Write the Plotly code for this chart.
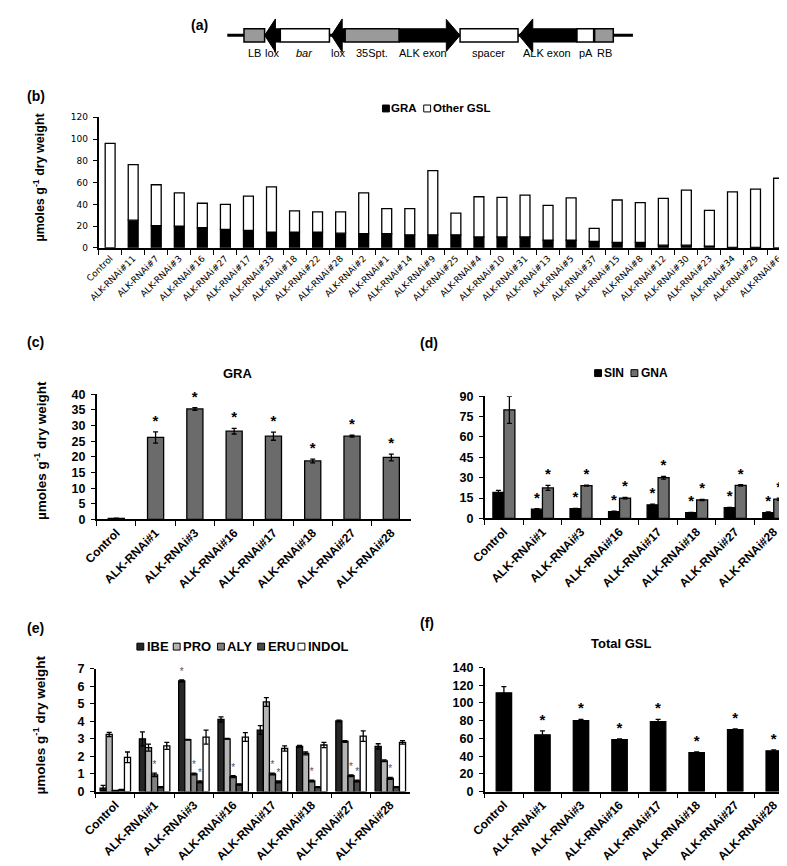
import plotly.graph_objects as go

# ---------------- data ----------------
lines_b = ["Control", "ALK-RNAi#11", "ALK-RNAi#7", "ALK-RNAi#3", "ALK-RNAi#16", "ALK-RNAi#27",
           "ALK-RNAi#17", "ALK-RNAi#33", "ALK-RNAi#18", "ALK-RNAi#22", "ALK-RNAi#28", "ALK-RNAi#2",
           "ALK-RNAi#1", "ALK-RNAi#14", "ALK-RNAi#9", "ALK-RNAi#25", "ALK-RNAi#4", "ALK-RNAi#10",
           "ALK-RNAi#31", "ALK-RNAi#13", "ALK-RNAi#5", "ALK-RNAi#37", "ALK-RNAi#15", "ALK-RNAi#8",
           "ALK-RNAi#12", "ALK-RNAi#30", "ALK-RNAi#23", "ALK-RNAi#34", "ALK-RNAi#29", "ALK-RNAi#6"]
gra_b = [0, 25.5, 20.5, 20, 18.5, 17, 16, 14.5, 14.5, 14.5, 13.5, 13, 13, 12, 12,
         12, 10, 10, 10, 7, 7, 6, 5, 5, 2.5, 2.5, 1.5, 0.5, 0.5, 0]
other_b = [96, 51, 37.5, 30.5, 22.5, 23, 31.5, 41.5, 19.5, 18.5, 19.5, 37.5, 23, 24, 59,
           20, 37, 36.5, 38.5, 32, 39, 12, 39, 36.5, 43, 50.5, 33, 51, 53.5, 64]

lines = ["Control", "ALK-RNAi#1", "ALK-RNAi#3", "ALK-RNAi#16", "ALK-RNAi#17",
         "ALK-RNAi#18", "ALK-RNAi#27", "ALK-RNAi#28"]

gra_c = [0.3, 26.2, 35.3, 28.2, 26.6, 18.7, 26.6, 19.8]
gra_c_err = [0.1, 1.8, 0.4, 0.9, 1.3, 0.6, 0.3, 1.1]
gra_c_sig = [0, 1, 1, 1, 1, 1, 1, 1]

sin_d = [19.1, 6.8, 7.2, 5.0, 10.0, 4.2, 7.9, 4.3]
sin_d_err = [1.6, 0.4, 0.2, 0.3, 0.5, 0.2, 0.3, 0.5]
sin_d_sig = [0, 1, 1, 1, 1, 1, 1, 1]
gna_d = [80, 22.5, 24.2, 15, 30, 13.6, 24.3, 14.2]
gna_d_err = [10, 1.8, 0.3, 0.5, 1.0, 0.5, 0.5, 0.8]
gna_d_sig = [0, 1, 1, 1, 1, 1, 1, 1]

ibe_e = [0.2, 3.0, 6.3, 4.1, 3.5, 2.57, 4.02, 2.57]
ibe_e_err = [0.15, 0.4, 0.05, 0.15, 0.25, 0.05, 0.05, 0.15]
ibe_e_sig = [0, 0, 1, 0, 0, 0, 0, 0]
pro_e = [3.25, 2.5, 2.95, 3.0, 5.1, 2.17, 2.85, 1.75]
pro_e_err = [0.12, 0.2, 0.02, 0.02, 0.25, 0.08, 0.05, 0.05]
pro_e_sig = [0, 0, 0, 0, 0, 0, 0, 0]
aly_e = [0.05, 0.95, 1.0, 0.85, 1.0, 0.6, 0.9, 0.75]
aly_e_err = [0.02, 0.1, 0.05, 0.05, 0.05, 0.05, 0.05, 0.05]
aly_e_sig = [0, 1, 1, 1, 1, 1, 1, 1]
eru_e = [0.1, 0.25, 0.55, 0.4, 0.55, 0.25, 0.6, 0.25]
eru_e_err = [0.02, 0.03, 0.05, 0.03, 0.05, 0.03, 0.05, 0.03]
eru_e_sig = [0, 0, 1, 0, 1, 0, 1, 0]
indol_e = [1.95, 2.6, 3.1, 3.1, 2.45, 2.65, 3.15, 2.8]
indol_e_err = [0.3, 0.2, 0.4, 0.25, 0.15, 0.15, 0.3, 0.1]
indol_e_sig = [0, 0, 0, 0, 0, 0, 0, 0]

total_f = [111.5, 64, 80, 58.5, 79, 44, 70, 46]
total_f_err = [7, 4.5, 1.5, 1, 2.5, 0.7, 0.7, 1]
total_f_sig = [0, 1, 1, 1, 1, 1, 1, 1]

construct_labels = ["LB", "lox", "<i>bar</i>", "lox", "35Spt.", "ALK exon", "spacer", "ALK exon", "pA", "RB"]

# ---------------- layout helpers ----------------
W, H = 787, 866
FONT = "Liberation Sans, Arial, sans-serif"
fig = go.Figure()


def yd(top_px, bot_px):
    return [1 - bot_px / H, 1 - top_px / H]


def xd(l_px, r_px):
    return [l_px / W, r_px / W]


def add_series(xa, ya, cats, vals, errs, sig, width, offset, color, star_font, name, base=None):
    fig.add_trace(go.Bar(
        x=cats, y=vals, base=base, width=width, offset=offset, name=name,
        marker=dict(color=color, line=dict(color="black", width=1.3)),
        error_y=(dict(type="data", array=errs, color="black", thickness=1.3, width=2.5)
                 if errs is not None else None),
        xaxis=xa, yaxis=ya, showlegend=False, hoverinfo="x+y"))
    if sig is not None and any(sig):
        sx = [c for c, s in zip(cats, sig) if s]
        sy = [v + e for v, e, s in zip(vals, errs, sig) if s]
        fig.add_trace(go.Bar(
            x=sx, y=sy, width=width, offset=offset,
            marker=dict(color="rgba(0,0,0,0)", line=dict(width=0)),
            text=["*"] * len(sx), textposition="outside", textangle=0,
            textfont=star_font, outsidetextfont=star_font, constraintext="none", cliponaxis=False,
            xaxis=xa, yaxis=ya, showlegend=False, hoverinfo="skip"))


# panel (b): stacked via base
add_series("x", "y", lines_b, gra_b, None, None, 0.43, -0.215, "black", None, "GRA")
add_series("x", "y", lines_b, other_b, None, None, 0.43, -0.215, "white", None, "Other GSL", base=gra_b)

star_big = dict(family=FONT, size=15, color="black", weight="bold")
star_small = dict(family=FONT, size=10, color="#555555")

# panel (c)
add_series("x2", "y2", lines, gra_c, gra_c_err, gra_c_sig, 0.41, -0.205, "#6b6b6b", star_big, "GRA")

# panel (d)
add_series("x3", "y3", lines, sin_d, sin_d_err, sin_d_sig, 0.285, -0.285, "black", star_big, "SIN")
add_series("x3", "y3", lines, gna_d, gna_d_err, gna_d_sig, 0.285, 0.0, "#707070", star_big, "GNA")

# panel (e)
e_series = [("IBE", ibe_e, ibe_e_err, ibe_e_sig, "#262626"),
            ("PRO", pro_e, pro_e_err, pro_e_sig, "#b5b5b5"),
            ("ALY", aly_e, aly_e_err, aly_e_sig, "#808080"),
            ("ERU", eru_e, eru_e_err, eru_e_sig, "#4a4a4a"),
            ("INDOL", indol_e, indol_e_err, indol_e_sig, "white")]
bw_e = 0.155
for k, (nm, v, er, sg, col) in enumerate(e_series):
    add_series("x4", "y4", lines, v, er, sg, bw_e, -2.5 * bw_e + k * bw_e, col, star_small, nm)

# panel (f)
add_series("x5", "y5", lines, total_f, total_f_err, total_f_sig, 0.4, -0.2, "black", star_big, "Total GSL")

# ---------------- axes ----------------
def cat_axis(dom, n, font, anchor):
    return dict(domain=dom, anchor=anchor, type="category", range=[-0.5, n - 0.5],
                showline=True, linecolor="black", linewidth=1.5, ticks="outside",
                tickson="boundaries", ticklen=5, tickcolor="black", tickwidth=1.3,
                tickangle=-45, tickfont=font, showgrid=False, zeroline=False, fixedrange=True)


def val_axis(dom, rng, dtick, font, anchor):
    return dict(domain=dom, anchor=anchor, range=rng, dtick=dtick, tick0=0,
                showline=True, linecolor="black", linewidth=1.5, ticks="outside",
                ticklen=4, tickcolor="black", tickwidth=1.3, tickfont=font,
                showgrid=False, zeroline=False, fixedrange=True, ticklabelstandoff=3)


font_b = dict(family="DejaVu Sans", size=9, color="black")
font_bold = dict(family=FONT, size=12.5, color="black", weight="bold")
font_xbold = dict(family=FONT, size=12, color="black", weight="bold")

layout_axes = dict(
    xaxis=cat_axis(xd(78, 782), len(lines_b), font_b, "y"),
    yaxis=val_axis(yd(104, 236.7), [0, 120], 20, font_b, "x"),
    xaxis2=cat_axis(xd(76, 396), len(lines), font_xbold, "y2"),
    yaxis2=val_axis(yd(385.5, 512.7), [0, 40], 5, font_bold, "x2"),
    xaxis3=cat_axis(xd(471, 785), len(lines), font_xbold, "y3"),
    yaxis3=val_axis(yd(387.5, 511.7), [0, 90], 15, font_bold, "x3"),
    xaxis4=cat_axis(xd(75, 395), len(lines), font_xbold, "y4"),
    yaxis4=val_axis(yd(664.3, 789.3), [0, 7], 1, font_bold, "x4"),
    xaxis5=cat_axis(xd(471, 785), len(lines), font_xbold, "y5"),
    yaxis5=val_axis(yd(663.3, 789.3), [0, 140], 20, font_bold, "x5"),
    xaxis6=dict(domain=[0, 1], range=[0, W], visible=False, anchor="y6", fixedrange=True),
    yaxis6=dict(domain=yd(0, 60), range=[60, 0], visible=False, anchor="x6", fixedrange=True),
)

# ---------------- construct diagram (a) ----------------
shapes = []
annotations = []
LINE_Y = 20.7
shapes.append(dict(type="line", xref="x6", yref="y6", x0=209, x1=622, y0=LINE_Y, y1=LINE_Y,
                   line=dict(color="black", width=3)))


def box(x0, x1, fill):
    shapes.append(dict(type="rect", xref="x6", yref="y6", x0=x0, x1=x1, y0=14, y1=27.5,
                       fillcolor=fill, line=dict(color="black", width=1.5)))


def arrow_left(tip, head_end, tail):
    p = (f"M{tip},{LINE_Y} L{head_end},4 L{head_end},14 L{tail},14 L{tail},27.5 "
         f"L{head_end},27.5 L{head_end},37.5 Z")
    shapes.append(dict(type="path", xref="x6", yref="y6", path=p, fillcolor="black",
                       line=dict(color="black", width=1)))


def arrow_right(tail, head_start, tip):
    p = (f"M{tip},{LINE_Y} L{head_start},4.5 L{head_start},14 L{tail},14 L{tail},27.5 "
         f"L{head_start},27.5 L{head_start},37 Z")
    shapes.append(dict(type="path", xref="x6", yref="y6", path=p, fillcolor="black",
                       line=dict(color="black", width=1)))


box(226, 247, "#9a9a9a")           # LB
arrow_left(247, 258, 263)          # lox
box(263, 313, "white")             # bar
arrow_left(315, 326, 329)          # lox
box(329, 384, "#9a9a9a")           # 35S promoter
arrow_right(384, 432, 446)         # ALK exon
box(446, 505, "white")             # spacer
arrow_left(506, 520, 565)          # ALK exon (reverse)
box(565, 582, "white")             # pA
box(583, 602, "#9a9a9a")           # RB

label_x = [237, 255, 288, 322, 356, 408, 475, 535, 574, 593]
for lx, lt in zip(label_x, construct_labels):
    annotations.append(dict(xref="x6", yref="y6", x=lx, y=38.5, text=lt, showarrow=False,
                            font=dict(family=FONT, size=11, color="black"),
                            xanchor="center", yanchor="middle"))

# ---------------- panel labels and titles ----------------
def paper_text(x_px, y_px, text, size=14, bold=True, xanchor="left", angle=0):
    annotations.append(dict(xref="paper", yref="paper", x=x_px / W, y=1 - y_px / H, text=text,
                            showarrow=False, xanchor=xanchor, yanchor="middle", textangle=angle,
                            font=dict(family=FONT, size=size, color="black",
                                      weight="bold" if bold else "normal")))


paper_text(170, 10, "(a)")
paper_text(3, 82, "(b)")
paper_text(3, 332, "(c)")
paper_text(403, 333, "(d)")
paper_text(3, 623, "(e)")
paper_text(403, 618, "(f)")
paper_text(220, 364, "GRA", 13, xanchor="center")
paper_text(610, 639, "Total GSL", 13, xanchor="center")

ytitle = "µmoles g<sup>-1</sup> dry weight"
paper_text(17.5, 165, ytitle, 12.5, xanchor="center", angle=-90)
paper_text(18.5, 443, ytitle, 13.5, xanchor="center", angle=-90)
paper_text(17.5, 722, ytitle, 13.5, xanchor="center", angle=-90)

# ---------------- legends ----------------
def legend(items, y_px, size_px, fsize):
    for name, col, sx, tx in items:
        shapes.append(dict(type="rect", xref="paper", yref="paper",
                           x0=sx / W, x1=(sx + size_px) / W,
                           y0=1 - (y_px + size_px / 2) / H, y1=1 - (y_px - size_px / 2) / H,
                           fillcolor=col, line=dict(color="black", width=1)))
        paper_text(tx, y_px, name, fsize)


legend([("GRA", "black", 367, 374), ("Other GSL", "white", 409, 416)], 95, 7, 11.5)
legend([("SIN", "black", 583, 591), ("GNA", "#707070", 620, 628)], 364, 7, 12)
legend([(nm, col, sx, sx + 8) for (nm, _, _, _, col), sx in zip(e_series, [117, 154, 199, 240, 281])],
       642, 7, 13)

fig.update_layout(
    width=W, height=H, margin=dict(l=0, r=0, t=0, b=0),
    paper_bgcolor="white", plot_bgcolor="white",
    barmode="overlay", showlegend=False,
    font=dict(family=FONT, color="black"),
    shapes=shapes, annotations=annotations,
    **layout_axes,
)

fig.write_html("out.html")
